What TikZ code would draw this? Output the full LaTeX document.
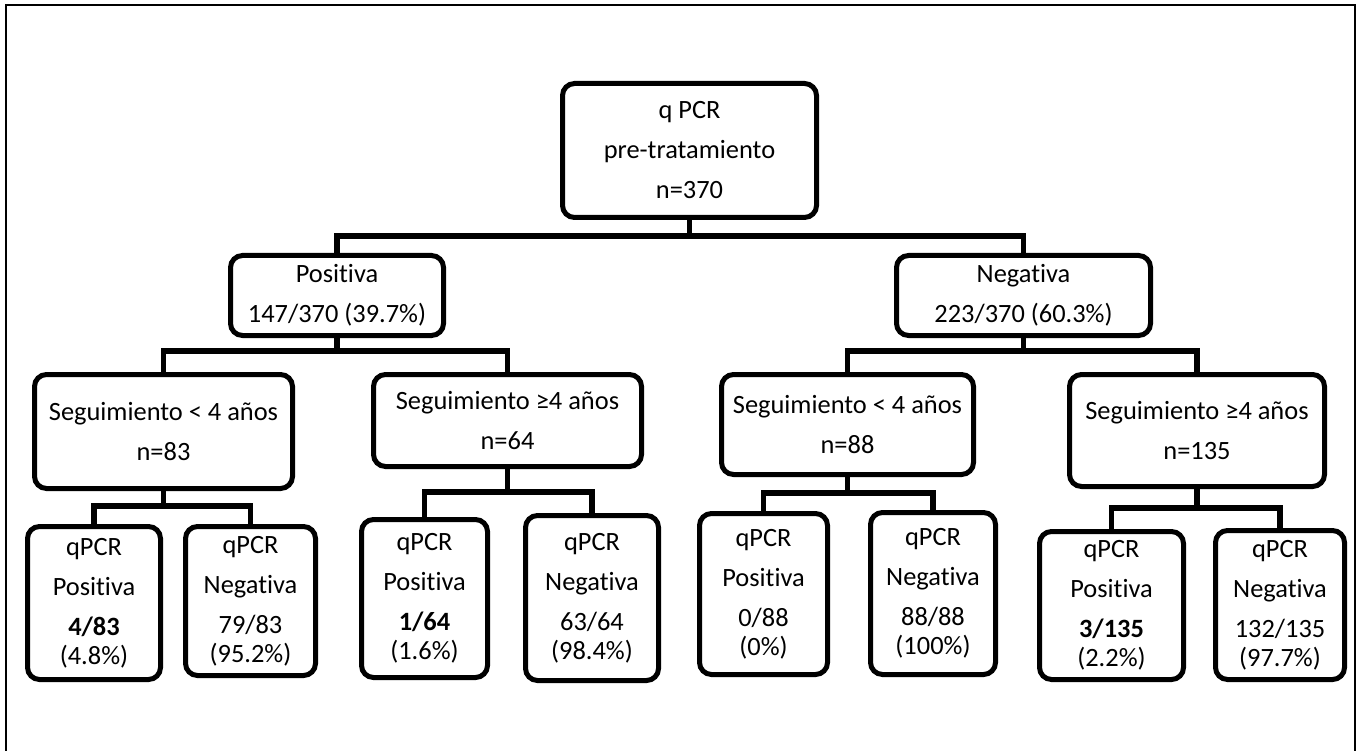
\documentclass[tikz,border=0pt]{standalone}
\usepackage{fontspec}
\setmainfont{Carlito}[Ligatures=NoCommon]
\usepackage{tikz}
\usetikzlibrary{calc}

\begin{document}
\begin{tikzpicture}[x=1pt,y=-1pt,
    box/.style={draw, line width=5pt, rounded corners=12pt, align=center, inner sep=0pt,
        font=\fontsize{26.4}{40}\selectfont},
    link/.style={line width=5.5pt}]
    \useasboundingbox (0,0) rectangle (1360,751);

    % Frame
    \draw[line width=2pt] (6,751) -- (6,5) -- (1355,5) -- (1355,751);

    % Root
    \node[box, minimum width=254, minimum height=134] (root) at (689.5,150.5) {q PCR\\pre-tratamiento\\n=370};

    % First split
    \node[box, minimum width=213, minimum height=80] (pos) at (337,295.5) {Positiva\\147/370 (39.7\%)};
    \node[box, minimum width=254, minimum height=80] (neg) at (1023.5,295.5) {Negativa\\223/370 (60.3\%)};

    % Follow-up
    \node[box, minimum width=258, minimum height=114] (posShort) at (163.5,431.5) {Seguimiento < 4 años\\n=83};
    \node[box, minimum width=268, minimum height=92] (posLong) at (507.5,420.5) {Seguimiento ≥4 años\\n=64};
    \node[box, minimum width=252, minimum height=100] (negShort) at (847.5,424.5) {Seguimiento < 4 años\\n=88};
    \node[box, minimum width=255, minimum height=112] (negLong) at (1197,430.5) {Seguimiento ≥4 años\\n=135};

    % qPCR results
    \node[box, minimum width=133, minimum height=153] (psPos) at (94,603) {qPCR\\Positiva\\\textbf{4/83}\\[-11pt](4.8\%)};
    \node[box, minimum width=130, minimum height=149] (psNeg) at (250.5,601) {qPCR\\Negativa\\79/83\\[-11pt](95.2\%)};
    \node[box, minimum width=126, minimum height=158] (plPos) at (424.5,598.5) {qPCR\\Positiva\\\textbf{1/64}\\[-11pt](1.6\%)};
    \node[box, minimum width=133, minimum height=165] (plNeg) at (592,598) {qPCR\\Negativa\\63/64\\[-11pt](98.4\%)};
    \node[box, minimum width=128, minimum height=161] (nsPos) at (763.5,594) {qPCR\\Positiva\\0/88\\[-11pt](0\%)};
    \node[box, minimum width=125, minimum height=162] (nsNeg) at (933,593.5) {qPCR\\Negativa\\88/88\\[-11pt](100\%)};
    \node[box, minimum width=144, minimum height=148] (nlPos) at (1111.5,605.5) {qPCR\\Positiva\\\textbf{3/135}\\[-11pt](2.2\%)};
    \node[box, minimum width=129, minimum height=149] (nlNeg) at (1280,605) {qPCR\\Negativa\\132/135\\[-11pt](97.7\%)};

    % Bus lines
    \coordinate (busRoot) at (0,236);
    \coordinate (busPos) at (0,351);
    \coordinate (busNeg) at (0,351);
    \coordinate (busPS) at (0,506);
    \coordinate (busPL) at (0,492);
    \coordinate (busNS) at (0,493);
    \coordinate (busNL) at (0,508);

    % Connectors
    \draw[link] (root.south) -- (root.south |- busRoot);
    \draw[link] (pos.north) |- (root.south |- busRoot) -| (neg.north);

    \draw[link] (pos.south) -- (pos.south |- busPos);
    \draw[link] (posShort.north) |- (pos.south |- busPos) -| (posLong.north);
    \draw[link] (neg.south) -- (neg.south |- busNeg);
    \draw[link] (negShort.north) |- (neg.south |- busNeg) -| (negLong.north);

    \draw[link] (posShort.south) -- (posShort.south |- busPS);
    \draw[link] (psPos.north) |- (posShort.south |- busPS) -| (psNeg.north);
    \draw[link] (posLong.south) -- (posLong.south |- busPL);
    \draw[link] (plPos.north) |- (posLong.south |- busPL) -| (plNeg.north);
    \draw[link] (negShort.south) -- (negShort.south |- busNS);
    \draw[link] (nsPos.north) |- (negShort.south |- busNS) -| (nsNeg.north);
    \draw[link] (negLong.south) -- (negLong.south |- busNL);
    \draw[link] (nlPos.north) |- (negLong.south |- busNL) -| (nlNeg.north);
\end{tikzpicture}
\end{document}
